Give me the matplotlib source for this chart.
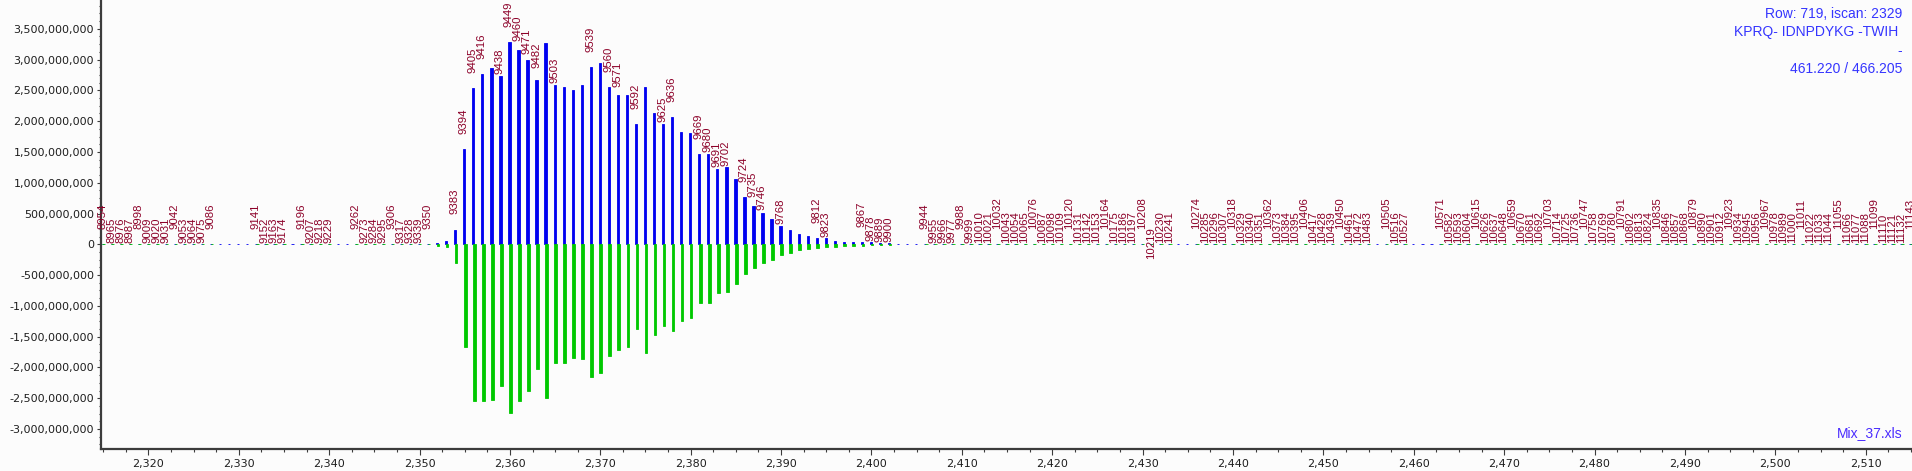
import numpy as np
import matplotlib.pyplot as plt
from matplotlib.ticker import MultipleLocator, FuncFormatter

# scan positions on the x axis (one bar per position)
positions = np.arange(2315, 2516)

# intensities (in units of 1e9) for the region where the peak is, 2350..2402
peak_first = 2350
blue_peak = [0, 0, 0.02, 0.05, 0.24, 1.55, 2.54, 2.77, 2.87, 2.74,
             3.28, 3.15, 2.99, 2.66, 3.27, 2.59, 2.55, 2.50, 2.58, 2.88,
             2.95, 2.56, 2.43, 2.42, 1.96, 2.55, 2.14, 1.96, 2.06, 1.83,
             1.81, 1.47, 1.46, 1.23, 1.25, 1.06, 0.77, 0.63, 0.51, 0.41,
             0.30, 0.24, 0.16, 0.14, 0.10, 0.10, 0.06, 0.04, 0.04, 0.04,
             0.03, 0.02, 0.02]
green_peak = [0, 0, -0.02, -0.04, -0.30, -1.66, -2.55, -2.55, -2.53, -2.30,
              -2.74, -2.55, -2.38, -2.03, -2.50, -1.92, -1.93, -1.85, -1.87, -2.16,
              -2.09, -1.82, -1.71, -1.66, -1.38, -1.77, -1.48, -1.32, -1.40, -1.25,
              -1.20, -0.95, -0.96, -0.79, -0.78, -0.64, -0.48, -0.39, -0.30, -0.25,
              -0.18, -0.14, -0.09, -0.08, -0.06, -0.05, -0.04, -0.03, -0.02, -0.02,
              -0.01, -0.01, -0.01]
# positions with no green trace at all
green_missing = [2328, 2329, 2330, 2331, 2336, 2341, 2342, 2403, 2404, 2405,
                 2434, 2435, 2456, 2460, 2461, 2462]

# scan-number labels and where they sit
label_pos = np.r_[2315:2328, 2332:2336, 2337:2341, 2343:2352,
                  2354, 2355, 2356, 2357, 2359, 2360, 2361, 2362, 2363, 2365,
                  2369, 2371, 2372, 2374, 2377, 2378, 2381, 2382, 2383, 2384,
                  2386, 2387, 2388, 2390, 2394, 2395,
                  2399:2403, 2406:2434, 2436:2456, 2457:2460, 2463:2516]
label_scan = [8954, 8965, 8976, 8987, 8998, 9009, 9020, 9031, 9042, 9053, 9064, 9075, 9086,
              9141, 9152, 9163, 9174,
              9196, 9207, 9218, 9229,
              9262, 9273, 9284, 9295, 9306, 9317, 9328, 9339, 9350,
              9383, 9394, 9405, 9416, 9438, 9449, 9460, 9471, 9482, 9503,
              9539, 9560, 9571, 9592, 9625, 9636, 9669, 9680, 9691, 9702,
              9724, 9735, 9746, 9768, 9812, 9823,
              9867, 9878, 9889, 9900,
              9944, 9955, 9966, 9977, 9988, 9999, 10010, 10021, 10032, 10043,
              10054, 10065, 10076, 10087, 10098, 10109, 10120, 10131, 10142, 10153,
              10164, 10175, 10186, 10197, 10208, 10219, 10230, 10241,
              10274, 10285, 10296, 10307, 10318, 10329, 10340, 10351, 10362, 10373,
              10384, 10395, 10406, 10417, 10428, 10439, 10450, 10461, 10472, 10483,
              10505, 10516, 10527,
              10571, 10582, 10593, 10604, 10615, 10626, 10637, 10648, 10659, 10670,
              10681, 10692, 10703, 10714, 10725, 10736, 10747, 10758, 10769, 10780,
              10791, 10802, 10813, 10824, 10835, 10846, 10857, 10868, 10879, 10890,
              10901, 10912, 10923, 10934, 10945, 10956, 10967, 10978, 10989, 11000,
              11011, 11022, 11033, 11044, 11055, 11066, 11077, 11088, 11099, 11110,
              11121, 11132, 11143]

info_lines = ['Row: 719, iscan: 2329', 'KPRQ- IDNPDYKG -TWIH ', '-', '461.220 / 466.205']
file_name = 'Mix_37.xls'

# label lifts (pixels above the bar top) picked by the labeller around the peak
label_lift = {9383: 16, 9394: 15, 9405: 15, 9416: 15, 9438: 2, 9449: 15, 9460: 9,
              9471: 6, 9482: 12, 9503: 2, 9539: 15, 9560: 15, 9571: 8, 9592: 15,
              9625: 1.5, 9636: 15, 9669: 15, 9680: 2.5, 9691: 2, 9702: 1, 9724: 14.5,
              9735: 9, 9746: 2.5, 9768: 2, 9812: 15, 9823: 1.5, 10219: -15}

BG = '#fcfcfc'
BLUE = '#0000f0'
GREEN = '#00c800'
LABEL = '#8c0028'
AXIS = '#3c3c3c'


def main():
    blue = np.zeros(len(positions))
    green = np.zeros(len(positions))
    i0 = peak_first - positions[0]
    blue[i0:i0 + len(blue_peak)] = np.array(blue_peak) * 1e9
    green[i0:i0 + len(green_peak)] = np.array(green_peak) * 1e9
    has_green = ~np.isin(positions, green_missing)

    fig = plt.figure(figsize=(19.12, 4.71), dpi=100, facecolor=BG)
    ax = fig.add_axes([101 / 1912, 22 / 471, 1811 / 1912, 449 / 471])
    ax.set_facecolor(BG)

    ax.bar(positions - 0.05, blue, width=0.25, color=BLUE, edgecolor=BLUE,
           linewidth=0.6, zorder=2)
    ax.bar(positions[has_green] + 0.05, green[has_green], width=0.3, color=GREEN,
           edgecolor=GREEN, linewidth=0.6, zorder=3)

    # scan labels: raised every few positions so neighbours do not collide
    last_high = None
    for x, s in zip(label_pos, label_scan):
        if s in label_lift:
            lift = label_lift[s]
            if lift >= 10:
                last_high = x
        elif last_high is None or x - last_high >= 4:
            lift = 15
            last_high = x
        else:
            lift = 1.5
        top = max(blue[x - positions[0]], 0)
        ann = ax.annotate(str(s), xy=(x, top), xytext=(-1, lift), textcoords='offset pixels',
                          rotation=90, ha='center', va='bottom', fontsize=8.2,
                          family='Liberation Sans', color=LABEL, zorder=4)
        ann.set_clip_on(True)

    ax.set_xlim(2314.76, 2515.12)
    ax.set_ylim(-3.324e9, 3.967e9)
    ax.yaxis.set_major_locator(MultipleLocator(5e8))
    ax.yaxis.set_minor_locator(MultipleLocator(1.25e8))
    ax.xaxis.set_major_locator(MultipleLocator(10))
    ax.xaxis.set_minor_locator(MultipleLocator(2.5))
    fmt = FuncFormatter(lambda v, p: f'{v:,.0f}')
    ax.yaxis.set_major_formatter(fmt)
    ax.xaxis.set_major_formatter(fmt)

    for side in ['top', 'right']:
        ax.spines[side].set_visible(False)
    for side in ['left', 'bottom']:
        ax.spines[side].set_color(AXIS)
        ax.spines[side].set_linewidth(1.6)
    ax.tick_params(axis='y', which='major', length=3, width=0.8, color=AXIS, pad=2,
                   labelsize=8, labelcolor='#1e1e1e')
    ax.tick_params(axis='y', which='minor', length=1.8, width=0.8, color=AXIS)
    ax.tick_params(axis='x', which='major', length=4, width=0.8, color=AXIS, pad=3,
                   labelsize=8, labelcolor='#1e1e1e')
    ax.tick_params(axis='x', which='minor', length=2.5, width=0.8, color=AXIS)

    for i, line in enumerate(info_lines):
        fig.text(1902 / 1912, 1 - (14 + 18.3 * i) / 471, line, ha='right', va='center',
                 fontsize=10, family='Liberation Sans', color='#3535ff')
    fig.text(1902 / 1912, 1 - 433 / 471, file_name, ha='right', va='center',
             fontsize=10, family='Liberation Sans', color='#4a2cff')

    fig.savefig('out.png', dpi=100, facecolor=BG)


if __name__ == '__main__':
    main()
